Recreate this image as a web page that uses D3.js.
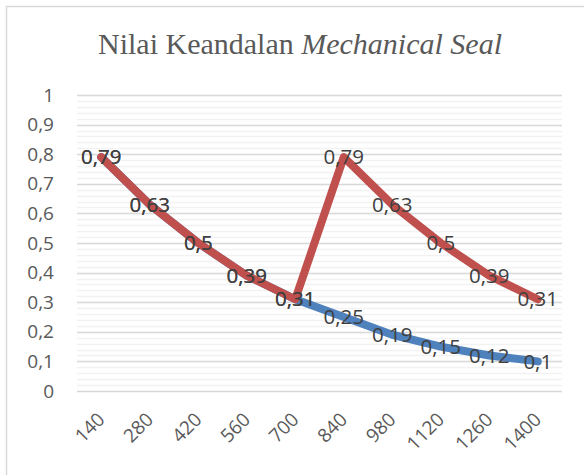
<!DOCTYPE html>
<html><head><meta charset="utf-8">
<script src="https://cdn.jsdelivr.net/npm/d3@7"></script>
<style>body{margin:0;background:#fff}</style>
</head><body>
<script>
const categories = ["140","280","420","560","700","840","980","1120","1260","1400"];
const blueValues = [0.79,0.63,0.5,0.39,0.31,0.25,0.19,0.15,0.12,0.1];
const redValues  = [0.79,0.63,0.5,0.39,0.31,0.79,0.63,0.5,0.39,0.31];
const yTicks = [0,0.1,0.2,0.3,0.4,0.5,0.6,0.7,0.8,0.9,1];

const W=584,H=475;
const svg=d3.select("body").append("svg").attr("width",W).attr("height",H);
svg.append("rect").attr("x",6.5).attr("y",6.5).attr("width",W+10).attr("height",H+10)
  .attr("fill","#fff").attr("stroke","#d9d9d9").attr("stroke-width",1.5);

const x=d3.scaleBand().domain(categories).range([77,562]);
const y=d3.scaleLinear().domain([0,1]).range([391,95]);

const minor=d3.range(0,1.0001,0.02);
svg.append("g").selectAll("line").data(minor).join("line")
  .attr("x1",77).attr("x2",562).attr("y1",d=>Math.round(y(d))+0.5).attr("y2",d=>Math.round(y(d))+0.5)
  .attr("stroke","#f2f2f2").attr("stroke-width",1.5);
svg.append("g").selectAll("line").data(yTicks).join("line")
  .attr("x1",77).attr("x2",562).attr("y1",d=>Math.round(y(d))+0.5).attr("y2",d=>Math.round(y(d))+0.5)
  .attr("stroke","#d9d9d9").attr("stroke-width",1.5);

const fmt=d=>String(d).replace(".",",");
const labFont="'Open Sans','Liberation Sans',sans-serif";

const ya=svg.append("g").attr("transform","translate(62,0)")
  .call(d3.axisLeft(y).tickValues(yTicks).tickFormat(fmt).tickSize(0).tickPadding(8));
ya.select(".domain").remove();
ya.selectAll("text").attr("font-family",labFont).attr("font-size",19).attr("fill","#595959");

const xa=svg.append("g").attr("transform","translate(0,391)")
  .call(d3.axisBottom(x).tickSize(0));
xa.select(".domain").remove();
xa.selectAll("text").attr("font-family",labFont).attr("font-size",19).attr("fill","#595959")
  .attr("text-anchor","end").attr("y",0).attr("dy","0.35em")
  .attr("transform","translate(0,25) rotate(-45)");

const line=d3.line().x((d,i)=>x(categories[i])+x.bandwidth()/2).y(d=>y(d));
svg.append("path").datum(blueValues).attr("d",line).attr("fill","none")
  .attr("stroke","#4f81bd").attr("stroke-width",8).attr("stroke-linejoin","round").attr("stroke-linecap","round");
svg.append("path").datum(redValues).attr("d",line).attr("fill","none")
  .attr("stroke","#c0504d").attr("stroke-width",8).attr("stroke-linejoin","round").attr("stroke-linecap","round");

function labels(vals){
  svg.append("g").selectAll("text").data(vals).join("text")
    .attr("x",(d,i)=>x(categories[i])+x.bandwidth()/2)
    .attr("y",d=>y(d)).attr("dy","0.35em")
    .attr("text-anchor","middle").attr("font-family",labFont).attr("font-size",20.5)
    .attr("fill","#404040").text(fmt);
}
labels(blueValues);
labels(redValues);

const t=svg.append("text").attr("x",300).attr("y",54).attr("text-anchor","middle")
  .attr("font-family","'Liberation Serif','DejaVu Serif',serif").attr("font-size",30).attr("fill","#595959");
t.append("tspan").text("Nilai Keandalan ");
t.append("tspan").attr("font-style","italic").text("Mechanical Seal");
</script>
</body></html>
